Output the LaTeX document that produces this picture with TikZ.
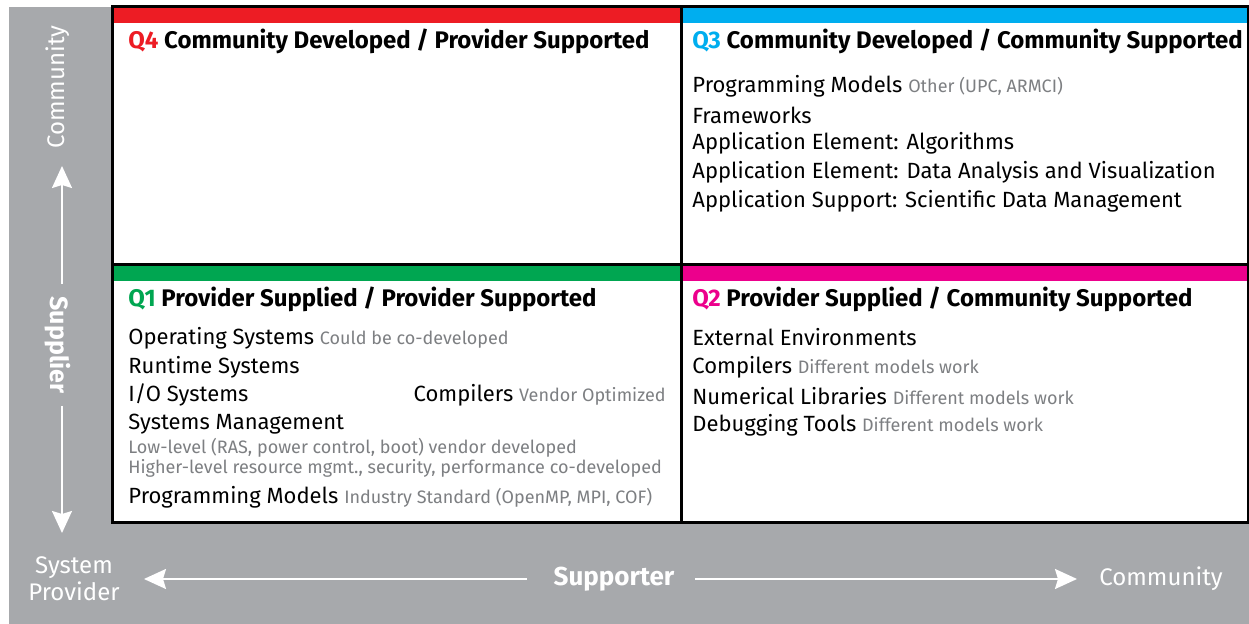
\documentclass[tikz,border=0pt]{standalone}
\usepackage{fontspec}
\setmainfont{Fira Sans}
\usetikzlibrary{arrows.meta}
\definecolor{qred}{HTML}{ED1C24}
\definecolor{qblue}{HTML}{00AEEF}
\definecolor{qgreen}{HTML}{00A651}
\definecolor{qpink}{HTML}{EC008C}
\definecolor{axisgray}{HTML}{A7A9AC}
\definecolor{notegray}{HTML}{7D7F82}
\newcommand{\qnote}[1]{{\color{notegray}\fontsize{9}{10}\selectfont #1}}

\tikzset{
  qtitle/.style={anchor=west, inner sep=0pt, font=\bfseries\fontsize{12}{14}\selectfont},
  qitem/.style={anchor=west, inner sep=0pt, font=\fontsize{11}{13}\selectfont},
  axislabel/.style={inner sep=0pt, text=white, font=\fontsize{12}{13.5}\selectfont},
  axisarrow/.style={white, line width=1pt, -{Stealth[length=11pt, width=10pt, inset=1.5pt]}},
}

\begin{document}
\begin{tikzpicture}[x=0.5pt, y=-0.5pt]
  \useasboundingbox (0,0) rectangle (1249,624);
  \fill[axisgray] (9,7) rectangle (1249,624);
  \fill[white] (112,7) rectangle (1248,523);
  % colour bars
  \fill[qred] (112,8) rectangle (681,23);
  \fill[qblue] (681,8) rectangle (1248,23);
  \fill[qgreen] (112,266) rectangle (681,281);
  \fill[qpink] (681,266) rectangle (1248,281);
  % frame
  \draw[line width=1.5pt] (112,7) rectangle (1248,523);
  \draw[line width=1.5pt] (681,7) -- (681,523);
  \draw[line width=1.5pt] (112,265) -- (1248,265);

  % Q4
  \node[qtitle] (q4) at (128,41) {\textcolor{qred}{Q4} Community Developed / Provider Supported};

  % Q3
  \node[qtitle] (q3) at (692,41) {\textcolor{qblue}{Q3} Community Developed / Community Supported};
  \node[qitem] (q3a) at (692,86) {Programming Models \qnote{Other (UPC, ARMCI)}};
  \node[qitem] (q3b) at (692,115) {Frameworks};
  \node[qitem] (q3c) at (692,143) {Application Element: Algorithms};
  \node[qitem] (q3d) at (692,172) {Application Element: Data Analysis and Visualization};
  \node[qitem] (q3e) at (692,201) {Application Support: Scientific Data Management};

  % Q1
  \node[qtitle] (q1) at (128,299) {\textcolor{qgreen}{Q1} Provider Supplied / Provider Supported};
  \node[qitem] (q1a) at (128,338) {Operating Systems \qnote{Could be co-developed}};
  \node[qitem] (q1b) at (128,367) {Runtime Systems};
  \node[qitem] (q1c) at (128,395) {I/O Systems};
  \node[qitem, anchor=east] (q1d) at (666,395) {Compilers \qnote{Vendor Optimized}};
  \node[qitem] (q1e) at (128,424) {Systems Management};
  \node[qitem] (q1f) at (128,448) {\qnote{Low-level (RAS, power control, boot) vendor developed}};
  \node[qitem] (q1g) at (128,468) {\qnote{Higher-level resource mgmt., security, performance co-developed}};
  \node[qitem] (q1h) at (128,497) {Programming Models \qnote{Industry Standard (OpenMP, MPI, COF)}};

  % Q2
  \node[qtitle] (q2) at (692,299) {\textcolor{qpink}{Q2} Provider Supplied / Community Supported};
  \node[qitem] (q2a) at (692,337) {External Environments};
  \node[qitem] (q2b) at (692,367) {Compilers \qnote{Different models work}};
  \node[qitem] (q2c) at (692,396) {Numerical Libraries \qnote{Different models work}};
  \node[qitem] (q2d) at (692,425) {Debugging Tools \qnote{Different models work}};

  % supplier axis
  \node[axislabel, rotate=90] (vcomm) at (58,87) {Community};
  \node[axislabel, rotate=-90, font=\bfseries\fontsize{12.5}{14}\selectfont] (supplier) at (58,345) {Supplier};
  \coordinate (uptip) at (62,166);
  \coordinate (downtip) at (62,533);
  \draw[axisarrow, shorten <=6pt] (supplier.west -| uptip) -- (uptip);
  \draw[axisarrow, shorten <=6pt] (supplier.east -| downtip) -- (downtip);

  % supporter axis
  \node[axislabel, align=center] (sysprov) at (74,579) {System\\Provider};
  \node[axislabel, font=\bfseries\fontsize{13}{14}\selectfont] (supporter) at (614,579) {Supporter};
  \node[axislabel, anchor=west] (hcomm) at (1099,579) {Community};
  \coordinate (lefttip) at (144,579);
  \coordinate (righttip) at (1077,579);
  \draw[axisarrow, shorten <=13pt] (supporter.west) -- (lefttip);
  \draw[axisarrow, shorten <=10pt] (supporter.east) -- (righttip);
\end{tikzpicture}
\end{document}
